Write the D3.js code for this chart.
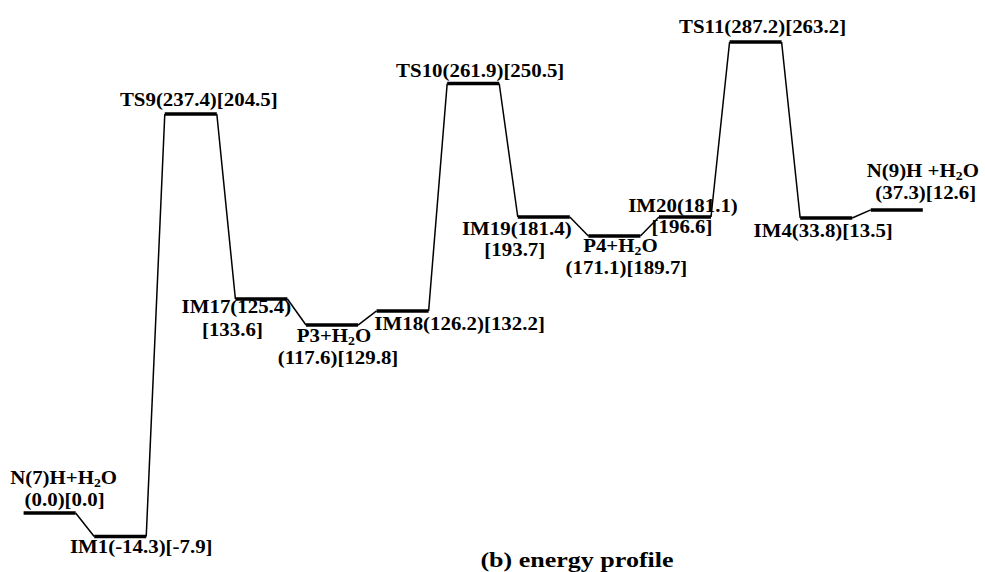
<!DOCTYPE html>
<html>
<head>
<meta charset="utf-8">
<script src="https://cdn.jsdelivr.net/npm/d3@7"></script>
<style>
  body { margin: 0; background: #fff; }
  svg text { font-family: "Liberation Serif", "Times New Roman", serif; font-weight: bold; fill: #000; }
</style>
</head>
<body>
<svg id="chart" width="985" height="572"></svg>
<script>
// species along the reaction path
const states = ["N(7)H+H2O", "IM1", "TS9", "IM17", "P3+H2O", "IM18", "TS10", "IM19", "P4+H2O", "IM20", "TS11", "IM4", "N(9)H +H2O"];
// values in round brackets
const energyRound = [0.0, -14.3, 237.4, 125.4, 117.6, 126.2, 261.9, 181.4, 171.1, 181.1, 287.2, 33.8, 37.3];
// values in square brackets
const energySquare = [0.0, -7.9, 204.5, 133.6, 129.8, 132.2, 250.5, 193.7, 189.7, 196.6, 263.2, 13.5, 12.6];
// height each level is drawn at (diagram is not to scale)
const drawnLevel = [0.0, -14.3, 243.3, 130.5, 114.6, 123.2, 261.9, 180.5, 168.9, 180.5, 287.2, 179.9, 184.8];

const title = "(b) energy profile";

// how each label is split and where its lines sit, relative to the bar centre / bar level
// split: "one" = name(a)[b], "name" = name / (a)[b], "square" = name(a) / [b]
const labelLayout = [
  { split: "name",   pos: [[14, -29], [15, -7]] },
  { split: "one",    pos: [[21, 17]] },
  { split: "one",    pos: [[8, -8]] },
  { split: "square", pos: [[-25, 14], [-29, 37]] },
  { split: "name",   pos: [[2, 17], [6, 39]] },
  { split: "one",    pos: [[57, 19]] },
  { split: "one",    pos: [[7, -6]] },
  { split: "square", pos: [[-27, 18], [-29, 39]] },
  { split: "name",   pos: [[6, 16], [12, 38]] },
  { split: "square", pos: [[-2, -5], [-3, 16]] },
  { split: "one",    pos: [[7, -9]] },
  { split: "one",    pos: [[-3, 19]] },
  { split: "name",   pos: [[26, -33], [29, -11]] }
];

const data = states.map((s, i) => ({
  name: s,
  a: energyRound[i],
  b: energySquare[i],
  level: drawnLevel[i],
  layout: labelLayout[i]
}));

const svg = d3.select("#chart");

const xScale = d3.scaleBand().domain(states).range([23.6, 922.8]).paddingInner(0.263).paddingOuter(0);
const yScale = d3.scaleLinear().domain([0, 287.2]).range([513, 42]);
const bw = xScale.bandwidth();

const fontSize = 18.5;
const stretch = 1.13;

// connectors between neighbouring levels
const links = d3.pairs(data);
svg.selectAll(".link")
  .data(links)
  .enter()
  .append("line")
  .attr("class", "link")
  .attr("x1", d => xScale(d[0].name) + bw)
  .attr("y1", d => yScale(d[0].level))
  .attr("x2", d => xScale(d[1].name))
  .attr("y2", d => yScale(d[1].level))
  .attr("stroke", "#000")
  .attr("stroke-width", 1.5);

// energy levels
svg.selectAll(".level")
  .data(data)
  .enter()
  .append("line")
  .attr("class", "level")
  .attr("x1", d => xScale(d.name))
  .attr("x2", d => xScale(d.name) + bw)
  .attr("y1", d => yScale(d.level))
  .attr("y2", d => yScale(d.level))
  .attr("stroke", "#000")
  .attr("stroke-width", 3.5);

function addText(str, cx, by, fs, sx) {
  const t = svg.append("text")
    .attr("transform", `translate(${cx},${by}) scale(${sx},1)`)
    .attr("text-anchor", "middle")
    .style("font-size", fs + "px");
  str.split(/(H2O)/).forEach(p => {
    if (p === "H2O") {
      t.append("tspan").text("H");
      t.append("tspan").attr("dy", 3).style("font-size", (fs * 0.66) + "px").text("2");
      t.append("tspan").attr("dy", -3).text("O");
    } else if (p) {
      t.append("tspan").text(p);
    }
  });
}

const fmt = v => v.toFixed(1);

data.forEach(d => {
  const cx = xScale(d.name) + bw / 2;
  const cy = yScale(d.level);
  const ra = "(" + fmt(d.a) + ")", sb = "[" + fmt(d.b) + "]";
  let lines;
  if (d.layout.split === "one") lines = [d.name + ra + sb];
  else if (d.layout.split === "name") lines = [d.name, ra + sb];
  else lines = [d.name + ra, sb];
  lines.forEach((l, j) => {
    const p = d.layout.pos[j];
    addText(l, cx + p[0], cy + p[1], fontSize, stretch);
  });
});

addText(title, 577, 567, 20.5, 1.27);
</script>
</body>
</html>
